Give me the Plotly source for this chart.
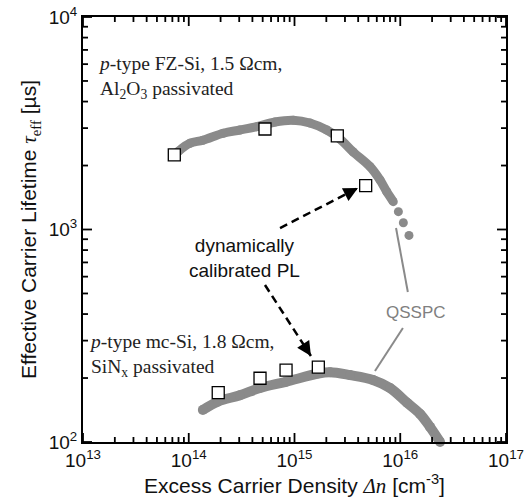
import math
import plotly.graph_objects as go

# ---- data ----
fz_qsspc_dn = [7.9e13, 1.03e14, 1.36e14, 2.12e14, 3.05e14, 4.40e14, 6.55e14, 9.75e14,
               1.40e15, 2.02e15, 2.69e15, 3.57e15, 5.18e15, 6.44e15, 7.45e15, 8.59e15]
fz_qsspc_tau = [2323, 2547, 2630, 2838, 2938, 3048, 3206, 3266,
                3170, 2938, 2667, 2323, 1977, 1710, 1506, 1352]
fz_tail_dn = [9.6e15, 1.07e16, 1.21e16]
fz_tail_tau = [1213, 1076, 938]
fz_pl_dn = [7.3e13, 5.26e14, 2.54e15, 4.71e15]
fz_pl_tau = [2244, 2972, 2755, 1607]

mc_qsspc_dn = [1.36e14, 1.89e14, 3.05e14, 4.72e14, 8.3e14, 1.67e15, 2.17e15,
               3.35e15, 5.52e15, 8.0e15, 1.16e16, 1.54e16, 1.91e16, 2.38e16]
mc_qsspc_tau = [141.6, 155, 166, 179.5, 192, 210, 213,
                206.5, 196, 179.5, 153, 135.5, 117.8, 100]
mc_pl_dn = [1.9e14, 4.72e14, 8.32e14, 1.68e15]
mc_pl_tau = [170.6, 199.5, 218, 225]

x_decades = [13, 14, 15, 16, 17]
y_decades = [2, 3, 4]

# annotation geometry (data coordinates)
arrow_tails = [(7.3e14, 1016), (5.26e14, 548)]
arrow_heads = [(3.98e15, 1567), (1.43e15, 254)]
arrow_head_offsets = [(-9, 4.6), (-5.4, -8.4)]
qsspc_lines = [((9.12e15, 1016), (1.18e16, 508)), ((1.06e16, 344), (5.77e15, 216))]
qsspc_label = (1.40e16, 409)

GRAY = "#8a8a8a"
SERIF = "Liberation Serif"
SANS = "Liberation Sans"

# layout geometry
W, H = 532, 504
ML, MR, MT, MB = 83, 26, 17, 62
MAJOR_LEN, MINOR_LEN = 9, 5

# tick positions / labels
x_major = [10.0 ** e for e in x_decades]
y_major = [10.0 ** e for e in y_decades]
x_minor = [m * 10.0 ** e for e in x_decades[:-1] for m in range(2, 10)]
y_minor = [m * 10.0 ** e for e in y_decades[:-1] for m in range(2, 10)]
x_major_text = [f"10<sup>{e}</sup>" for e in x_decades]
y_major_text = [f"10<sup>{e}</sup>" for e in y_decades]
x_lo, x_hi = x_major[0], x_major[-1]
y_lo, y_hi = y_major[0], y_major[-1]
px_per_dec_x = (W - ML - MR) / (x_decades[-1] - x_decades[0])
px_per_dec_y = (H - MT - MB) / (y_decades[-1] - y_decades[0])

fig = go.Figure()

# QSSPC curves
fig.add_trace(go.Scatter(x=fz_qsspc_dn, y=fz_qsspc_tau, mode="lines+markers",
                         line=dict(color=GRAY, width=9, shape="spline"),
                         marker=dict(color=GRAY, size=9), showlegend=False))
fig.add_trace(go.Scatter(x=fz_tail_dn, y=fz_tail_tau, mode="markers",
                         marker=dict(color=GRAY, size=9), showlegend=False))
fig.add_trace(go.Scatter(x=mc_qsspc_dn, y=mc_qsspc_tau, mode="lines+markers",
                         line=dict(color=GRAY, width=10, shape="spline"),
                         marker=dict(color=GRAY, size=10), showlegend=False,
                         cliponaxis=False))

# QSSPC pointer lines
for (p0, p1) in qsspc_lines:
    fig.add_trace(go.Scatter(x=[p0[0], p1[0]], y=[p0[1], p1[1]], mode="lines",
                             line=dict(color=GRAY, width=2), showlegend=False))

# dashed arrows
for (t, h) in zip(arrow_tails, arrow_heads):
    fig.add_trace(go.Scatter(x=[t[0], h[0]], y=[t[1], h[1]], mode="lines",
                             line=dict(color="black", width=2.5, dash="8px,5px"),
                             showlegend=False))
for h, (ax, ay) in zip(arrow_heads, arrow_head_offsets):
    fig.add_annotation(x=math.log10(h[0]), y=math.log10(h[1]), xref="x", yref="y",
                       ax=ax, ay=ay, axref="pixel", ayref="pixel", text="",
                       showarrow=True, arrowhead=2, arrowsize=1.3, arrowwidth=2.2,
                       arrowcolor="black")

# PL squares
for xs, ys in [(fz_pl_dn, fz_pl_tau), (mc_pl_dn, mc_pl_tau)]:
    fig.add_trace(go.Scatter(x=xs, y=ys, mode="markers",
                             marker=dict(symbol="square", size=12, color="white",
                                         line=dict(color="black", width=1.3)),
                             showlegend=False))


# inward tick marks on all four sides, drawn as short line segments
def tick_segments(vals, length_px):
    fx = 10 ** (length_px / px_per_dec_x)
    fy = 10 ** (length_px / px_per_dec_y)
    xs, ys = [], []
    for v in vals["x"]:
        xs += [v, v, None, v, v, None]
        ys += [y_lo, y_lo * fy, None, y_hi, y_hi / fy, None]
    for v in vals["y"]:
        xs += [x_lo, x_lo * fx, None, x_hi, x_hi / fx, None]
        ys += [v, v, None, v, v, None]
    return xs, ys


for vals, ln in [({"x": x_major, "y": y_major}, MAJOR_LEN),
                 ({"x": x_minor, "y": y_minor}, MINOR_LEN)]:
    tx, ty = tick_segments(vals, ln)
    fig.add_trace(go.Scatter(x=tx, y=ty, mode="lines", cliponaxis=False,
                             line=dict(color="black", width=1.8), hoverinfo="skip",
                             showlegend=False, connectgaps=False))

# text annotations
fig.add_annotation(xref="paper", yref="paper", x=0.031, y=0.857, xanchor="left",
                   yanchor="middle", align="left", showarrow=False,
                   text="<i>p</i>-type FZ-Si, 1.5 Ωcm,<br>Al<sub>2</sub>O<sub>3</sub> passivated",
                   font=dict(family=SERIF, size=19.5, color="#222"))
fig.add_annotation(xref="paper", yref="paper", x=0.01, y=0.203, xanchor="left",
                   yanchor="middle", align="left", showarrow=False,
                   text="<i>p</i>-type mc-Si, 1.8 Ωcm,<br>SiN<sub>x</sub> passivated",
                   font=dict(family=SERIF, size=19.5, color="#222"))
fig.add_annotation(xref="paper", yref="paper", x=0.381, y=0.433, xanchor="center",
                   yanchor="middle", align="center", showarrow=False,
                   text="dynamically<br>calibrated PL",
                   font=dict(family=SANS, size=19, color="#111"))
fig.add_annotation(x=math.log10(qsspc_label[0]), y=math.log10(qsspc_label[1]),
                   xref="x", yref="y", showarrow=False, text="QSSPC",
                   font=dict(family=SANS, size=17, color="#808080"))

fig.update_xaxes(type="log", range=[x_decades[0], x_decades[-1]], showline=True,
                 linecolor="black", linewidth=2, mirror=True, showgrid=False,
                 zeroline=False, ticks="",
                 tickmode="array", tickvals=x_major, ticktext=x_major_text,
                 tickfont=dict(family=SANS, size=19, color="#111"),
                 title=dict(text="Excess Carrier Density <i><span style='font-family:Liberation Serif'>Δn</span></i> [cm<sup>-3</sup>]",
                            font=dict(family=SANS, size=21, color="#111"), standoff=2))
fig.update_yaxes(type="log", range=[y_decades[0], y_decades[-1]], showline=True,
                 linecolor="black", linewidth=2, mirror=True, showgrid=False,
                 zeroline=False, ticks="",
                 tickmode="array", tickvals=y_major, ticktext=y_major_text,
                 tickfont=dict(family=SANS, size=19, color="#111"),
                 title=dict(text="Effective Carrier Lifetime <i><span style='font-family:Liberation Serif'>τ</span></i><sub><span style='font-family:Liberation Serif'>eff</span></sub> [µs]",
                            font=dict(family=SANS, size=21, color="#111"), standoff=6))

fig.update_layout(width=W, height=H, margin=dict(l=ML, r=MR, t=MT, b=MB),
                  plot_bgcolor="white", paper_bgcolor="white", showlegend=False,
                  template="none")

fig.write_html("out.html")
